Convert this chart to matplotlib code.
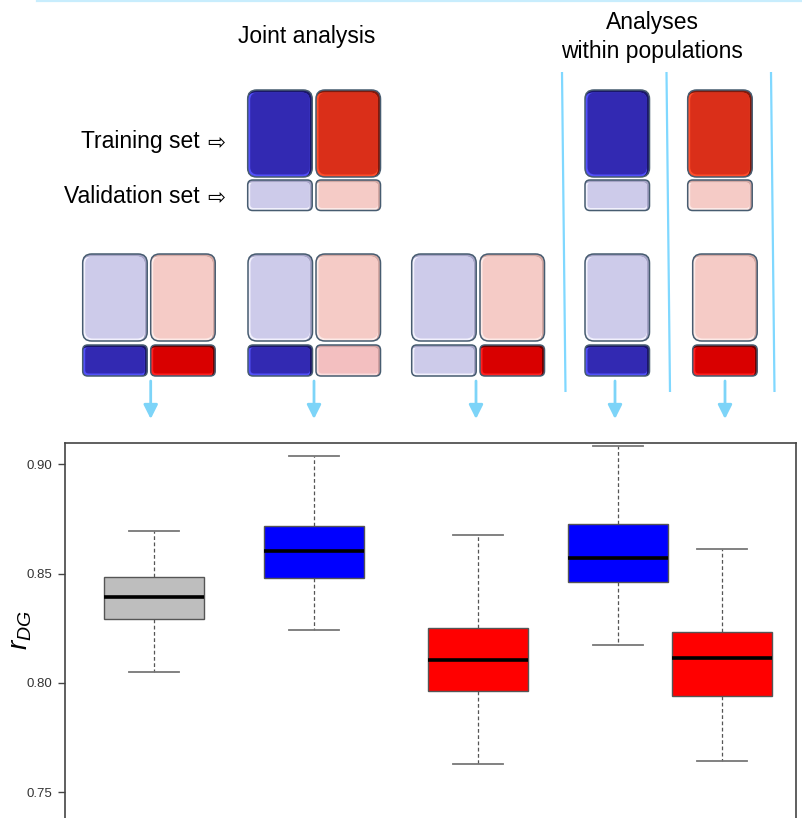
import matplotlib.pyplot as plt
from matplotlib.patches import FancyBboxPatch

plt.rcParams['font.family'] = ['Liberation Sans', 'DejaVu Sans']
plt.rcParams['mathtext.fontset'] = 'custom'
plt.rcParams['mathtext.rm'] = 'Liberation Sans'
plt.rcParams['mathtext.it'] = 'Liberation Sans:italic'

# accuracy (r_DG) summaries per scenario
box_colors = ['#BEBEBE', '#0000FF', '#FF0000', '#0000FF', '#FF0000']
whisker_hi = [0.8696, 0.9039, 0.8678, 0.9084, 0.8614]
q3 = [0.8485, 0.8718, 0.8252, 0.8728, 0.8235]
medians = [0.8392, 0.8602, 0.8103, 0.8572, 0.8116]
q1 = [0.8293, 0.8482, 0.7965, 0.8463, 0.7942]
whisker_lo = [0.8052, 0.8244, 0.7631, 0.8175, 0.7643]
y_ticks = [0.75, 0.80, 0.85, 0.90]

W, H = 803, 818
fig = plt.figure(figsize=(W / 100, H / 100), dpi=100)

# ---- box plot -------------------------------------------------------------
ax = fig.add_axes([65 / W, 0, 731 / W, 375 / H])
box_x = [0.89, 2.493, 4.127, 5.527, 6.573]
stats = [dict(med=m, q1=a, q3=b, whislo=lo, whishi=hi, fliers=[])
         for m, a, b, lo, hi in zip(medians, q1, q3, whisker_lo, whisker_hi)]
bp = ax.bxp(stats, positions=box_x, widths=1.0, capwidths=0.5,
            patch_artist=True, showfliers=False,
            boxprops=dict(edgecolor='#555555', linewidth=1.0),
            medianprops=dict(color='black', linewidth=2.6),
            whiskerprops=dict(color='#555555', linewidth=0.9, linestyle=(0, (3, 2))),
            capprops=dict(color='#777777', linewidth=1.3))
for patch, c in zip(bp['boxes'], box_colors):
    patch.set_facecolor(c)

ax.set_xlim(0, 7.31)
ax.set_ylim(0.7382, 0.9098)
ax.set_xticks([])
ax.set_yticks(y_ticks)
ax.set_yticklabels([f'{t:.2f}' for t in y_ticks])
ax.tick_params(axis='y', length=5, width=1, color='#444444', pad=4,
               labelsize=9.5, labelcolor='#333333')
ax.spines['bottom'].set_visible(False)
for s in ['left', 'top', 'right']:
    ax.spines[s].set_color('#444444')
    ax.spines[s].set_linewidth(1.2)
fig.text(21 / W, 1 - 630 / H, r'$r_{DG}$', rotation=90, ha='center', va='center',
         fontsize=20)

# ---- scheme of training / validation sets ---------------------------------
ov = fig.add_axes([0, 0, 1, 1])
ov.set_xlim(0, W)
ov.set_ylim(H, 0)
ov.axis('off')
ov.patch.set_alpha(0)

# tile shades: (main, dark edge, light edge)
DARK_BLUE = ('#3229B2', '#1A166A', '#5250FA')
TRAIN_RED = ('#DA2F19', '#80190C', '#FF4E2C')
VALID_RED = ('#D90000', '#700000', '#FF2020')
LIGHT_BLUE = ('#CDCBEA', '#A5A3C6', '#F2F1FD')
LIGHT_RED = ('#F5CBC6', '#D2A7A2', '#FDEAE7')
PINK = ('#F3BFC0', '#D09FA0', '#FBDDDD')


def tile(x, y, w, h, shades, r):
    main, dark, light = shades
    box = "round,pad=0,rounding_size={}"
    ov.add_patch(FancyBboxPatch((x, y), w, h, boxstyle=box.format(r),
                                fc=dark, ec='none'))
    ov.add_patch(FancyBboxPatch((x, y + 2.5), w - 2.5, h - 2.5,
                                boxstyle=box.format(r - 1), fc=light, ec='none'))
    ov.add_patch(FancyBboxPatch((x + 2.5, y + 2.5), w - 5, h - 5,
                                boxstyle=box.format(r - 1.5), fc=main, ec='none'))
    ov.add_patch(FancyBboxPatch((x, y), w, h, boxstyle=box.format(r),
                                fc='none', ec='#475C70', lw=1.1))


TW, BIG_H, SMALL_H = 64.5, 87, 31

# legend row
for x, big, small in [(247.7, DARK_BLUE, LIGHT_BLUE), (316, TRAIN_RED, LIGHT_RED),
                      (585, DARK_BLUE, LIGHT_BLUE), (687.7, TRAIN_RED, LIGHT_RED)]:
    tile(x, 90, TW, BIG_H, big, 9)
    tile(x, 180, TW, 30.5, small, 5)

# scenario row
scenario_tiles = [(82.7, LIGHT_BLUE, DARK_BLUE), (150.7, LIGHT_RED, VALID_RED),
                  (248, LIGHT_BLUE, DARK_BLUE), (316, LIGHT_RED, PINK),
                  (411.7, LIGHT_BLUE, LIGHT_BLUE), (480, LIGHT_RED, VALID_RED),
                  (585, LIGHT_BLUE, DARK_BLUE), (692.7, LIGHT_RED, VALID_RED)]
for x, big, small in scenario_tiles:
    tile(x, 254, TW, BIG_H, big, 9)
    tile(x, 345, TW, SMALL_H, small, 5)

# arrows from each scenario down to its box
for x in [150.7, 314, 476, 615, 725]:
    ov.annotate('', xy=(x, 419), xytext=(x, 381),
                arrowprops=dict(arrowstyle='-|>,head_width=0.3,head_length=0.6',
                                color='#7DD4F8', lw=2, mutation_scale=14,
                                shrinkA=0, shrinkB=0))

# separators around the within-population analyses
for x0, x1 in [(562, 565.5), (666.5, 670), (771, 774.5)]:
    ov.plot([x0, x1], [72, 392], color='#80D8FF', lw=1.6, solid_capstyle='butt')

ov.plot([37, W], [0.8, 0.8], color='#C8EDFD', lw=1.6)

ov.text(306.5, 37, 'Joint analysis', ha='center', va='center', fontsize=16.5)
ov.text(652, 22.7, 'Analyses', ha='center', va='center', fontsize=16.5)
ov.text(652, 51.7, 'within populations', ha='center', va='center', fontsize=16.5)
for y, label in [(141.7, 'Training set'), (196.7, 'Validation set')]:
    ov.text(200, y, label, ha='right', va='center', fontsize=16.5)
    ov.text(216.5, y + 0.5, '\u21e8', ha='center', va='center', fontsize=15.5,
            family='DejaVu Sans')

fig.savefig('out.png', dpi=100)
